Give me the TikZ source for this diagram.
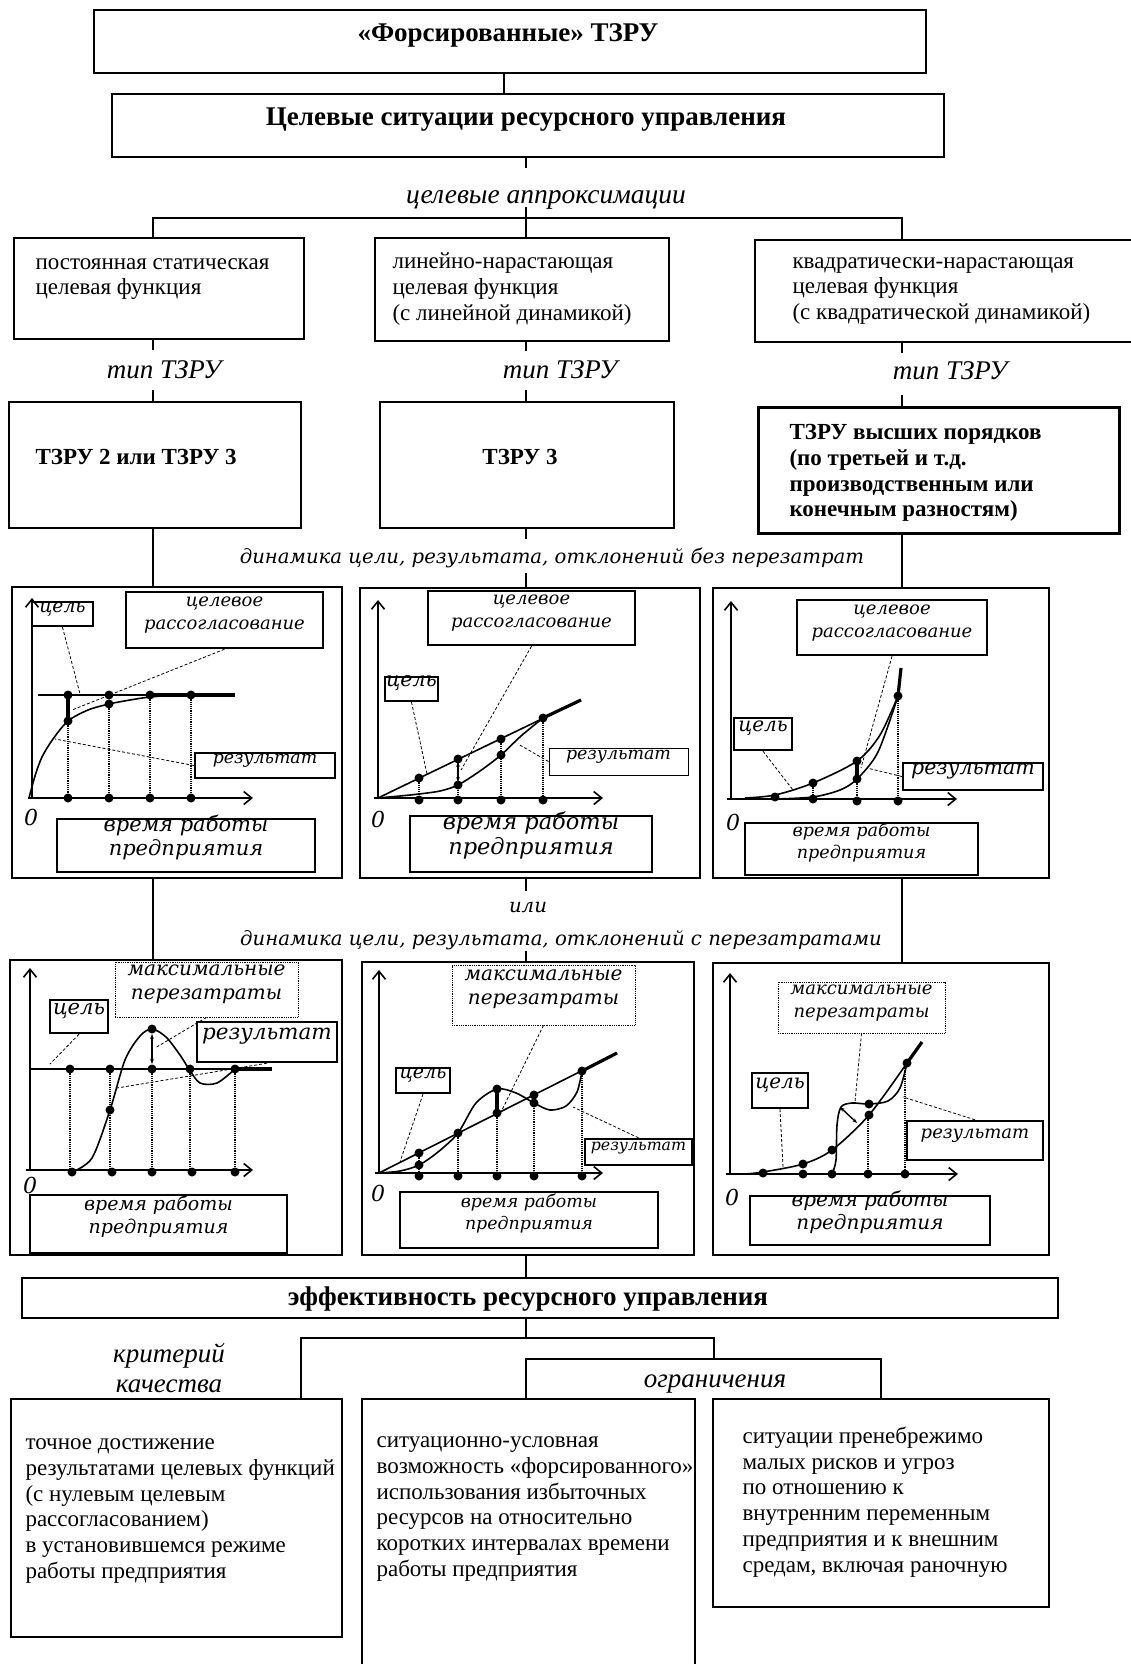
\documentclass[tikz,border=0pt]{standalone}
\usepackage{fontspec}
\setmainfont{Liberation Serif}
\newfontfamily\grfont{DejaVu Serif}
\usetikzlibrary{arrows.meta,fit}

\tikzset{
  outline/.style={draw, line width=2.6pt, inner sep=0pt},
  wire/.style={line width=2.2pt},
  headtext/.style={font=\bfseries\fontsize{27}{30}\selectfont},
  bodytext/.style={anchor=west, align=left, font=\fontsize{23}{25.7}\selectfont},
  boldtext/.style={anchor=west, align=left, font=\bfseries\fontsize{23}{25.7}\selectfont},
  cuetext/.style={align=center, font=\itshape\fontsize{27}{30}\selectfont},
  dyntext/.style={font=\grfont\itshape\fontsize{19.7}{24}\selectfont},
  axisline/.style={line width=1.6pt, -{Straight Barb[length=8pt,width=13pt]}},
  graphline/.style={line width=1.6pt},
  heavy/.style={line width=3.2pt},
  dropline/.style={line width=1.2pt, densely dotted},
  leader/.style={line width=0.8pt, dash pattern=on 3pt off 2pt},
  gaparrow/.style={line width=1.4pt, {Stealth[length=5pt]}-{Stealth[length=5pt]}},
  tagbox/.style 2 args={draw, line width=2.4pt, inner sep=0pt, align=center,
    font=\grfont\itshape\fontsize{#1}{#2}\selectfont},
  peakbox/.style={line width=0.8pt, densely dotted},
  zerolbl/.style={font=\grfont\itshape\fontsize{22}{22}\selectfont},
}

\begin{document}
\begin{tikzpicture}[x=1pt,y=-1pt]
\useasboundingbox (0,0) rectangle (1130,1664);

% columns of the tree
\coordinate (spine) at (504,0);
\coordinate (colA) at (153,0);
\coordinate (colB) at (526,0);
\coordinate (colC) at (902,0);
\coordinate (bar1) at (0,218);

% top of the scheme
\node[outline, fit={(94,10) (926,73)}] (forced) {};
\node[headtext] (forcedtxt) at (508,35) {«Форсированные» ТЗРУ};
\node[outline, fit={(112,94) (944,157)}] (goals) {};
\node[headtext] (goalstxt) at (526,120) {Целевые ситуации ресурсного управления};
\draw[wire] (spine |- forced.south) -- (spine |- goals.north);

\node[cuetext, font=\itshape\fontsize{27.5}{30}\selectfont] (approx) at (546,200) {целевые аппроксимации};
\draw[wire] (colB |- goals.south) -- ++(0,10);

% target functions
\node[outline, fit={(14,238) (304,339)}] (boxA) {};
\node[bodytext] (boxAtxt) at (32,279) {постоянная статическая\\целевая функция};
\node[outline, fit={(375,238) (669,341)}] (boxB) {};
\node[bodytext] (boxBtxt) at (389,289) {линейно-нарастающая\\целевая функция\\(с линейной динамикой)};
\node[outline, fit={(755,240) (1140,342)}] (boxC) {};
\node[bodytext] (boxCtxt) at (789,291) {квадратически-нарастающая\\целевая функция\\(с квадратической динамикой)};

\draw[wire] (colB |- bar1) ++(0,-11) -- (colB |- boxB.north);
\draw[wire] (colA |- boxA.north) -- (colA |- bar1) -- (colC |- bar1) -- (colC |- boxC.north);

% types
\node[cuetext] (typeA) at (164,370) {тип ТЗРУ};
\node[cuetext] (typeB) at (560,370) {тип ТЗРУ};
\node[cuetext] (typeC) at (950,371) {тип ТЗРУ};
\draw[wire] (colA |- boxA.south) -- ++(0,10);
\draw[wire] (colB |- boxB.south) -- ++(0,9);
\draw[wire] (colC |- boxC.south) -- ++(0,10);

\node[outline, fit={(9,402) (301,528)}] (boxD) {};
\node[boldtext] (boxDtxt) at (32,457) {ТЗРУ 2 или ТЗРУ 3};
\node[outline, fit={(380,402) (674,528)}] (boxE) {};
\node[boldtext, anchor=center] (boxEtxt) at (520,457) {ТЗРУ 3};
\node[outline, line width=3pt, fit={(758,407) (1119,533)}] (boxF) {};
\node[boldtext] (boxFtxt) at (786,473) {ТЗРУ высших порядков\\(по третьей и т.д.\\производственным или\\конечным разностям)};
\draw[wire] (colA |- boxD.north) -- ++(0,-11);
\draw[wire] (colB |- boxE.north) -- ++(0,-11);
\draw[wire] (colC |- boxF.north) -- ++(0,-11);

\node[dyntext] (dyn1) at (552,558) {динамика цели, результата, отклонений без перезатрат};

% graphs without overspending
\node[outline, fit={(12,587) (342,878)}] (g1) {};
\node[outline, fit={(360,588) (700,878)}] (g2) {};
\node[outline, fit={(713,588) (1049,878)}] (g3) {};
\draw[wire] (colA |- boxD.south) -- (colA |- g1.north);
\draw[wire] (colC |- boxF.south) -- (colC |- g3.north);
\draw[wire] (colB |- boxE.south) -- ++(0,10);
\draw[wire] (colB |- g2.north) -- ++(0,-14);

% graph 1: constant target
\draw[axisline] (32,798) -- (32,598);
\draw[axisline] (28,798) -- (253,798);
\node[zerolbl] (g1zero) at (31,817) {0};
\draw[graphline] (38,695) -- (235,695);
\draw[heavy] (150,695) -- (235,695);
\draw[graphline] plot[smooth] coordinates {(29,798) (35,776) (42,757) (53,739) (68,721) (88,710) (109,704) (130,700) (150,697) (177,695)};
\draw[heavy] (68,695) -- (68,721);
\foreach \x/\y in {68/721,109/704,150/695,191/695}
  \draw[dropline] (\x,\y) -- (\x,798);
\foreach \x/\y in {68/695,109/695,150/695,191/695,68/721,109/704,68/798,109/798,150/798,191/798}
  \fill (\x,\y) circle (4.5);
\node[tagbox={18.7}{21}, fit={(32,602) (93,626)}] (g1goal) {цель};
\node[tagbox={18}{23}, fit={(126,592) (323,648)}] (g1gap) {целевое\\рассогласование};
\node[tagbox={17.3}{20}, fit={(195,753) (335,778)}] (g1res) {результат};
\node[tagbox={21}{24}, fit={(57,819) (315,872)}] (g1time) {время работы\\предприятия};
\draw[leader] (g1goal.south) -- (80,694);
\draw[leader] (g1gap.south) -- (72,710);
\draw[leader] (g1res.west) -- (55,739);

% graph 2: linear target
\draw[axisline] (378,798) -- (378,600);
\draw[axisline] (374,798) -- (603,798);
\node[zerolbl] (g2zero) at (378,819) {0};
\draw[graphline] (378,798) -- (581,700);
\draw[heavy] (543,718) -- (581,700);
\draw[graphline] plot[smooth] coordinates {(378,798) (400,796) (419,794) (440,791) (458,785) (480,771) (501,755) (521,736) (543,718)};
\draw[gaparrow] (458,762) -- (458,782);
\foreach \x/\y in {419/778,458/759,501/739,543/718}
  \draw[dropline] (\x,\y) -- (\x,798);
\foreach \x/\y in {419/778,458/759,501/739,543/718,458/785,501/755,419/800,458/800,501/800,543/800}
  \fill (\x,\y) circle (4.5);
\node[tagbox={18}{23}, fit={(428,591) (635,645)}] (g2gap) {целевое\\рассогласование};
\node[tagbox={20.5}{22}, fit={(385,677) (438,701)}] (g2goal) {цель};
\node[tagbox={17.4}{20}, line width=1pt, fit={(549,748) (688,775)}] (g2res) {результат};
\node[tagbox={22.5}{25}, fit={(410,816) (652,872)}] (g2time) {время работы\\предприятия};
\draw[leader] (g2goal.south) -- (427,774);
\draw[leader] (g2gap.south) -- (461,770);
\draw[leader] (g2res.west) -- (518,744);

% graph 3: quadratic target
\draw[axisline] (731,799) -- (731,601);
\draw[axisline] (727,799) -- (957,799);
\node[zerolbl] (g3zero) at (733,822) {0};
\draw[graphline] plot[smooth] coordinates {(745,798) (775,795) (813,783) (857,761) (880,735) (898,696)};
\draw[heavy] (898,696) -- (901,668);
\draw[graphline] plot[smooth] coordinates {(775,799) (813,797) (840,790) (857,779) (878,752) (898,696)};
\draw[heavy] (857,761) -- (857,779);
\foreach \x/\y in {813/783,857/779,898/696}
  \draw[dropline] (\x,\y) -- (\x,799);
\foreach \x/\y in {775/797,813/783,857/761,898/696,813/799,857/779,857/801,898/801}
  \fill (\x,\y) circle (4.5);
\node[tagbox={18}{23}, fit={(797,600) (987,655)}] (g3gap) {целевое\\рассогласование};
\node[tagbox={20}{22}, fit={(734,718) (792,750)}] (g3goal) {цель};
\node[tagbox={20.5}{22}, fit={(903,763) (1043,790)}] (g3res) {результат};
\node[tagbox={17.6}{22}, fit={(745,823) (978,875)}] (g3time) {время работы\\предприятия};
\draw[leader] (g3goal.south) -- (793,790);
\draw[leader] (g3gap.south) -- (861,768);
\draw[leader] (g3res.west) -- (867,768);

% or
\node[dyntext] (orlbl) at (528,908) {или};
\node[dyntext] (dyn2) at (561,940) {динамика цели, результата, отклонений с перезатратами};

% graphs with overspending
\node[outline, fit={(10,960) (342,1255)}] (h1) {};
\node[outline, fit={(362,962) (694,1255)}] (h2) {};
\node[outline, fit={(713,963) (1049,1255)}] (h3) {};
\draw[wire] (colA |- g1.south) -- (colA |- h1.north);
\draw[wire] (colC |- g3.south) -- (colC |- h3.north);
\draw[wire] (colB |- g2.south) -- ++(0,12);
\draw[wire] (colB |- h2.north) -- ++(0,-10);

% graph 4: constant target, overspending
\draw[axisline] (30,1170) -- (30,968);
\draw[axisline] (26,1170) -- (253,1170);
\node[zerolbl] (h1zero) at (30,1185) {0};
\draw[graphline] (30,1069) -- (272,1069);
\draw[heavy] (233,1069) -- (272,1069);
\draw[graphline] plot[smooth] coordinates {(72,1172) (92,1158) (110,1110) (125,1060) (140,1036) (152,1029) (166,1037) (180,1055) (189,1069) (200,1083) (217,1083) (235,1069)};
\draw[gaparrow] (152,1034) -- (152,1064);
\foreach \x in {70,110,152,190,235}
  \draw[dropline] (\x,1069) -- (\x,1172);
\foreach \x/\y in {70/1069,110/1069,152/1069,190/1069,235/1069,110/1110,152/1029,72/1172,112/1172,152/1172,192/1172,235/1172}
  \fill (\x,\y) circle (4.5);
\node[tagbox={20}{24}, peakbox, fit={(115,962) (298,1017)}] (h1peak) {максимальные\\перезатраты};
\node[tagbox={21}{22}, fit={(50,1000) (108,1033)}] (h1goal) {цель};
\node[tagbox={21.5}{24}, fit={(197,1022) (337,1062)}] (h1res) {результат};
\node[tagbox={19}{23}, fit={(30,1195) (287,1253)}] (h1time) {время работы\\предприятия};
\draw[leader] (h1goal.south) -- (50,1064);
\draw[leader] (h1peak.south) -- (155,1048);
\draw[leader] (h1res.south) -- (117,1088);

% graph 5: linear target, overspending
\draw[axisline] (379,1173) -- (379,970);
\draw[axisline] (375,1173) -- (603,1173);
\node[zerolbl] (h2zero) at (378,1193) {0};
\draw[graphline] (379,1173) -- (617,1053);
\draw[heavy] (582,1071) -- (617,1053);
\draw[graphline] plot[smooth] coordinates {(379,1173) (400,1171) (419,1165) (438,1152) (458,1133) (476,1103) (497,1089) (516,1093) (534,1103) (550,1110) (566,1106) (577,1092) (582,1071)};
\draw[heavy] (497,1089) -- (497,1113);
\foreach \x/\y in {419/1153,458/1133,497/1113,534/1095,582/1071}
  \draw[dropline] (\x,\y) -- (\x,1176);
\foreach \x/\y in {419/1153,458/1133,497/1113,534/1095,582/1071,419/1165,497/1089,534/1103,419/1176,458/1176,497/1176,534/1176,582/1176}
  \fill (\x,\y) circle (4.5);
\node[tagbox={20}{24}, peakbox, fit={(452,965) (635,1025)}] (h2peak) {максимальные\\перезатраты};
\node[tagbox={19}{21}, fit={(396,1068) (450,1093)}] (h2goal) {цель};
\node[tagbox={15.8}{19}, fit={(585,1139) (692,1165)}] (h2res) {результат};
\node[tagbox={17.4}{22}, fit={(400,1192) (658,1248)}] (h2time) {время работы\\предприятия};
\draw[leader] (h2goal.south) -- (400,1162);
\draw[leader] (h2peak.south) -- (502,1110);
\draw[leader] (h2res.north) -- (573,1107);

% graph 6: quadratic target, overspending
\draw[axisline] (730,1174) -- (730,973);
\draw[axisline] (726,1174) -- (958,1174);
\node[zerolbl] (h3zero) at (732,1197) {0};
\draw[graphline] plot[smooth] coordinates {(745,1174) (763,1172) (803,1164) (832,1150) (869,1115) (907,1063)};
\draw[heavy] (907,1063) -- (922,1042);
\draw[graphline] (763,1174) -- (832,1174);
\draw[graphline] plot[smooth] coordinates {(832,1174) (836,1160) (837,1125) (841,1107) (852,1103) (869,1104) (888,1101) (900,1088) (907,1063)};
\draw[gaparrow] (840,1107) -- (857,1123);
\foreach \x/\y in {868/1115,905/1063}
  \draw[dropline] (\x,\y) -- (\x,1174);
\foreach \x/\y in {763/1173,803/1164,832/1150,869/1115,907/1063,803/1174,832/1174,869/1104,868/1174,905/1174}
  \fill (\x,\y) circle (4.5);
\node[tagbox={18}{23}, peakbox, fit={(778,982) (945,1033)}] (h3peak) {максимальные\\перезатраты};
\node[tagbox={20}{22}, fit={(752,1073) (808,1108)}] (h3goal) {цель};
\node[tagbox={18}{22}, fit={(907,1121) (1043,1160)}] (h3res) {результат};
\node[tagbox={20}{23}, fit={(750,1196) (990,1245)}] (h3time) {время работы\\предприятия};
\draw[leader] (h3goal.south) -- (783,1167);
\draw[leader] (h3peak.south) -- (855,1102);
\draw[leader] (h3res.north) -- (903,1097);

% efficiency
\coordinate (critx) at (301,0);
\coordinate (forkx) at (714,0);
\coordinate (limx) at (881,0);
\coordinate (bar2) at (0,1338);
\coordinate (bar3) at (0,1359);
\node[outline, fit={(22,1278) (1058,1318)}] (eff) {};
\node[headtext] (efftxt) at (528,1299) {эффективность ресурсного управления};
\draw[wire] (colB |- h2.south) -- (colB |- eff.north);

\node[outline, fit={(11,1399) (342,1637)}] (k1) {};
\node[outline, fit={(362,1399) (695,1690)}] (k2) {};
\node[outline, fit={(713,1399) (1049,1607)}] (k3) {};
\draw[wire] (colB |- eff.south) -- (colB |- bar2);
\draw[wire] (critx |- k1.north) -- (critx |- bar2) -- (forkx |- bar2) -- (forkx |- bar3);
\draw[wire] (colB |- k2.north) -- (colB |- bar3) -- (limx |- bar3) -- (limx |- k3.north);
\node[cuetext] (crit) at (169,1368) {критерий\\качества};
\node[cuetext] (limits) at (715,1384) {ограничения};

\node[bodytext] (k1txt) at (22,1511) {точное достижение\\результатами целевых функций\\(с нулевым целевым\\рассогласованием)\\в установившемся режиме\\работы предприятия};
\node[bodytext] (k2txt) at (373,1509) {ситуационно-условная\\возможность «форсированного»\\использования избыточных\\ресурсов на относительно\\коротких интервалах времени\\работы предприятия};
\node[bodytext] (k3txt) at (739,1502) {ситуации пренебрежимо\\малых рисков и угроз\\по отношению к\\внутренним переменным\\предприятия и к внешним\\средам, включая раночную};
\end{tikzpicture}
\end{document}
